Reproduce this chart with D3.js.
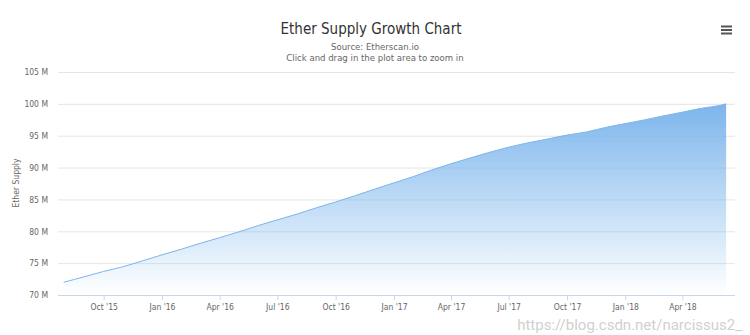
<!DOCTYPE html>
<html><head><meta charset="utf-8">
<script src="https://cdn.jsdelivr.net/npm/d3@7"></script>
<style>
html,body{margin:0;padding:0;background:#fff;}
svg{display:block;}
text{font-family:"Liberation Sans Narrow","DejaVu Sans Condensed","Open Sans",sans-serif;}
</style></head>
<body><svg id="chart" width="750" height="335"></svg>
<script>
const dates = ["2015-07-30","2015-08-31","2015-10-01","2015-11-01","2015-12-01","2016-01-01","2016-02-01","2016-03-01","2016-04-01","2016-05-01","2016-06-01","2016-07-01","2016-08-01","2016-09-01","2016-10-01","2016-11-01","2016-12-01","2017-01-01","2017-02-01","2017-03-01","2017-04-01","2017-05-01","2017-06-01","2017-07-01","2017-08-01","2017-09-01","2017-10-01","2017-11-01","2017-12-01","2018-01-01","2018-02-01","2018-03-01","2018-04-01","2018-05-01","2018-06-01","2018-06-09"];
const supply = [72.0,72.85,73.7,74.45,75.35,76.3,77.2,78.1,79.0,79.9,80.9,81.8,82.7,83.7,84.6,85.6,86.6,87.6,88.6,89.6,90.6,91.5,92.4,93.2,93.9,94.5,95.1,95.6,96.3,96.9,97.5,98.1,98.7,99.3,99.8,100.0];
const yTicks = [70,75,80,85,90,95,100,105];
const xTickDates = ["2015-10-01","2016-01-01","2016-04-01","2016-07-01","2016-10-01","2017-01-01","2017-04-01","2017-07-01","2017-10-01","2018-01-01","2018-04-01"];
const xDomain = ["2015-07-21","2018-06-23"];
const titleText = "Ether Supply Growth Chart";
const subtitleLines = ["Source: Etherscan.io","Click and drag in the plot area to zoom in"];
const yAxisTitle = "Ether Supply";

const parse = d3.utcParse("%Y-%m-%d");
const data = dates.map((d,i)=>({date:parse(d), v:supply[i]}));
const svg = d3.select("#chart");
const L=58, R=735, T=72, B=295;
const x = d3.scaleUtc().domain(xDomain.map(parse)).range([L,R]);
const y = d3.scaleLinear().domain([70,105]).range([B,T]);
const fmt = d3.utcFormat("%b '%y");

const defs = svg.append("defs");
const grad = defs.append("linearGradient").attr("id","fillGrad")
  .attr("x1",0).attr("y1",0).attr("x2",0).attr("y2",1);
grad.append("stop").attr("offset","0%").attr("stop-color","#7cb5ec").attr("stop-opacity",1);
grad.append("stop").attr("offset","100%").attr("stop-color","#7cb5ec").attr("stop-opacity",0);

// grid
const yAxis = d3.axisLeft(y).tickValues(yTicks).tickSize(-(R-L)).tickFormat(d=>d+" M");
const gy = svg.append("g").attr("transform",`translate(${L},0)`).call(yAxis);
gy.select(".domain").remove();
gy.selectAll(".tick line").attr("stroke","#e6e6e6").attr("stroke-width",1);
gy.selectAll(".tick text").attr("x",-10).attr("fill","#666").style("font-size","8.5px");

// area
const area = d3.area().curve(d3.curveMonotoneX).x(d=>x(d.date)).y0(y(70)).y1(d=>y(d.v));
svg.append("path").datum(data).attr("d",area).attr("fill","url(#fillGrad)");
const line = d3.line().curve(d3.curveMonotoneX).x(d=>x(d.date)).y(d=>y(d.v));
svg.append("path").datum(data).attr("d",line).attr("fill","none").attr("stroke","#7cb5ec").attr("stroke-width",1);

// x axis
const xAxis = d3.axisBottom(x).tickValues(xTickDates.map(parse)).tickSize(5).tickPadding(4).tickFormat(fmt);
const gx = svg.append("g").attr("transform",`translate(0,${B})`).call(xAxis);
gx.select(".domain").attr("stroke","#ccd6eb").attr("d",`M${L},0.5H${R}`);
gx.selectAll(".tick line").attr("stroke","#ccd6eb");
gx.selectAll(".tick text").attr("fill","#666").style("font-size","8.5px");

// titles
svg.append("text").attr("x",371).attr("y",34).attr("text-anchor","middle")
  .attr("fill","#333").style("font-size","15px").text(titleText);
subtitleLines.forEach((s,i)=>{
  svg.append("text").attr("x",375).attr("y",50+i*10.5).attr("text-anchor","middle")
    .attr("fill","#666").style("font-size","9.5px").text(s);
});
svg.append("text").attr("transform",`translate(19,183) rotate(-90)`).attr("text-anchor","middle")
  .attr("fill","#666").style("font-size","8.5px").text(yAxisTitle);

// menu icon
[26.5,30,33.5].forEach(yy=>{
  svg.append("line").attr("x1",721).attr("x2",732).attr("y1",yy).attr("y2",yy)
    .attr("stroke","#555").attr("stroke-width",2);
});

// watermark
svg.append("text").attr("x",742).attr("y",330).attr("text-anchor","end")
  .attr("fill","#d0d0d0").style("font-family","Roboto,'Liberation Sans',sans-serif").style("font-size","15px").text("https://blog.csdn.net/narcissus2_");
</script></body></html>
